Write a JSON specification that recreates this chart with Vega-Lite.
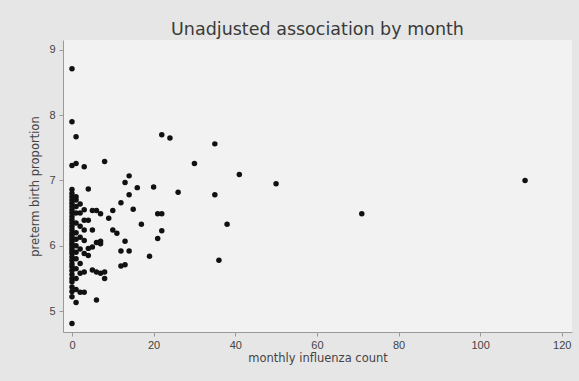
{
  "$schema": "https://vega.github.io/schema/vega-lite/v6.json",
  "autosize": "none",
  "width": 509,
  "height": 292,
  "padding": {"left": 63, "top": 40, "right": 7, "bottom": 49},
  "background": "#e6e6e6",
  "title": {"text": "Unadjusted association by month", "font": "DejaVu Sans", "fontSize": 17.5, "fontWeight": "normal", "color": "#3a3a3a", "anchor": "middle", "offset": 2},
  "config": {
    "view": {"fill": "#f2f2f2", "stroke": null},
    "axis": {"labelFont": "Liberation Sans", "titleFont": "DejaVu Sans", "labelFontSize": 11, "titleFontSize": 11.5, "labelColor": "#444444", "titleColor": "#444444", "titleFontWeight": "normal", "domainColor": "#9a9a9a", "tickColor": "#9a9a9a", "tickSize": 4, "grid": false}
  },
  "data": {"values": [
    {"flu": 0, "preterm": 4.81}, {"flu": 0, "preterm": 5.22}, {"flu": 0, "preterm": 5.3}, {"flu": 0, "preterm": 5.37}, {"flu": 0, "preterm": 5.45},
    {"flu": 0, "preterm": 5.5}, {"flu": 0, "preterm": 5.56}, {"flu": 0, "preterm": 5.62}, {"flu": 0, "preterm": 5.68}, {"flu": 0, "preterm": 5.72},
    {"flu": 0, "preterm": 5.78}, {"flu": 0, "preterm": 5.83}, {"flu": 0, "preterm": 5.88}, {"flu": 0, "preterm": 5.92}, {"flu": 0, "preterm": 5.96},
    {"flu": 0, "preterm": 6.0}, {"flu": 0, "preterm": 6.04}, {"flu": 0, "preterm": 6.08}, {"flu": 0, "preterm": 6.12}, {"flu": 0, "preterm": 6.16},
    {"flu": 0, "preterm": 6.2}, {"flu": 0, "preterm": 6.25}, {"flu": 0, "preterm": 6.3}, {"flu": 0, "preterm": 6.35}, {"flu": 0, "preterm": 6.4},
    {"flu": 0, "preterm": 6.45}, {"flu": 0, "preterm": 6.5}, {"flu": 0, "preterm": 6.55}, {"flu": 0, "preterm": 6.6}, {"flu": 0, "preterm": 6.65},
    {"flu": 0, "preterm": 6.7}, {"flu": 0, "preterm": 6.75}, {"flu": 0, "preterm": 6.8}, {"flu": 0, "preterm": 6.86}, {"flu": 0, "preterm": 7.23},
    {"flu": 0, "preterm": 7.9}, {"flu": 0, "preterm": 8.71},
    {"flu": 1, "preterm": 5.13}, {"flu": 1, "preterm": 5.33}, {"flu": 1, "preterm": 5.5}, {"flu": 1, "preterm": 5.65}, {"flu": 1, "preterm": 5.8},
    {"flu": 1, "preterm": 5.9}, {"flu": 1, "preterm": 6.0}, {"flu": 1, "preterm": 6.1}, {"flu": 1, "preterm": 6.2}, {"flu": 1, "preterm": 6.35},
    {"flu": 1, "preterm": 6.5}, {"flu": 1, "preterm": 6.6}, {"flu": 1, "preterm": 6.7}, {"flu": 1, "preterm": 6.75}, {"flu": 1, "preterm": 7.26},
    {"flu": 1, "preterm": 7.67},
    {"flu": 2, "preterm": 5.29}, {"flu": 2, "preterm": 5.58}, {"flu": 2, "preterm": 5.73}, {"flu": 2, "preterm": 5.95}, {"flu": 2, "preterm": 6.13},
    {"flu": 2, "preterm": 6.3}, {"flu": 2, "preterm": 6.5}, {"flu": 2, "preterm": 6.64}, {"flu": 3, "preterm": 7.21},
    {"flu": 3, "preterm": 5.29}, {"flu": 3, "preterm": 5.6}, {"flu": 3, "preterm": 5.88}, {"flu": 3, "preterm": 6.08}, {"flu": 3, "preterm": 6.24},
    {"flu": 3, "preterm": 6.39}, {"flu": 3, "preterm": 6.55},
    {"flu": 4, "preterm": 5.85}, {"flu": 4, "preterm": 5.96}, {"flu": 4, "preterm": 6.39}, {"flu": 4, "preterm": 6.87},
    {"flu": 5, "preterm": 5.63}, {"flu": 5, "preterm": 5.98}, {"flu": 5, "preterm": 6.24}, {"flu": 5, "preterm": 6.54},
    {"flu": 6, "preterm": 5.17}, {"flu": 6, "preterm": 5.6}, {"flu": 6, "preterm": 6.05}, {"flu": 6, "preterm": 6.54},
    {"flu": 7, "preterm": 5.58}, {"flu": 7, "preterm": 6.03}, {"flu": 7, "preterm": 6.07}, {"flu": 7, "preterm": 6.49},
    {"flu": 8, "preterm": 5.5}, {"flu": 8, "preterm": 5.6}, {"flu": 8, "preterm": 7.29},
    {"flu": 9, "preterm": 6.42},
    {"flu": 10, "preterm": 6.24}, {"flu": 10, "preterm": 6.54},
    {"flu": 11, "preterm": 6.19},
    {"flu": 12, "preterm": 5.69}, {"flu": 12, "preterm": 5.92}, {"flu": 12, "preterm": 6.66},
    {"flu": 13, "preterm": 5.71}, {"flu": 13, "preterm": 6.07}, {"flu": 13, "preterm": 6.97},
    {"flu": 14, "preterm": 5.92}, {"flu": 14, "preterm": 6.78}, {"flu": 14, "preterm": 7.07},
    {"flu": 15, "preterm": 6.56},
    {"flu": 16, "preterm": 6.89},
    {"flu": 17, "preterm": 6.33},
    {"flu": 19, "preterm": 5.84},
    {"flu": 20, "preterm": 6.9},
    {"flu": 21, "preterm": 6.11}, {"flu": 21, "preterm": 6.49},
    {"flu": 22, "preterm": 6.23}, {"flu": 22, "preterm": 6.49}, {"flu": 22, "preterm": 7.7},
    {"flu": 24, "preterm": 7.65},
    {"flu": 26, "preterm": 6.82},
    {"flu": 30, "preterm": 7.26},
    {"flu": 35, "preterm": 6.78}, {"flu": 35, "preterm": 7.56},
    {"flu": 36, "preterm": 5.78},
    {"flu": 38, "preterm": 6.33},
    {"flu": 41, "preterm": 7.09},
    {"flu": 50, "preterm": 6.95},
    {"flu": 71, "preterm": 6.49},
    {"flu": 111, "preterm": 7.0}
  ]},
  "mark": {"type": "circle", "size": 30, "color": "#111111", "opacity": 1},
  "encoding": {
    "x": {"field": "flu", "type": "quantitative", "title": "monthly influenza count",
          "scale": {"domain": [-2.2, 122.5], "nice": false, "zero": false},
          "axis": {"values": [0, 20, 40, 60, 80, 100, 120], "labelPadding": 3, "titlePadding": 2}},
    "y": {"field": "preterm", "type": "quantitative", "title": "preterm birth proportion",
          "scale": {"domain": [4.68, 9.15], "nice": false, "zero": false},
          "axis": {"values": [5, 6, 7, 8, 9], "labelPadding": 4, "titlePadding": 8}}
  }
}
